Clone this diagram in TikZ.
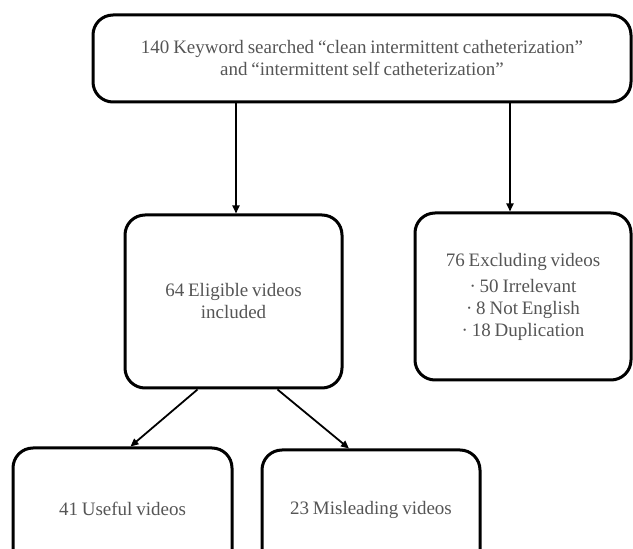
\documentclass[tikz,border=0pt]{standalone}
\usepackage{fontspec}
\setmainfont[WordSpace={0.8,0.6,0.6}]{Liberation Serif}
\usetikzlibrary{arrows.meta}
\definecolor{txt}{HTML}{555555}
\begin{document}
\begin{tikzpicture}[x=1pt,y=1pt,
  box/.style={draw=black, line width=3pt, rounded corners=20pt, text=txt,
    font=\fontsize{19}{22}\selectfont, align=center, inner sep=0pt},
  arr/.style={-{Triangle[length=8pt,width=7pt]}, line width=1.8pt}]
\useasboundingbox (0,0) rectangle (633,549);
\clip (0,0) rectangle (633,549);
\node[box, minimum width=538pt, minimum height=87pt] (top) at (362,490.5)
  {140 Keyword searched “clean intermittent catheterization”\\and “intermittent self catheterization”};
\node[box, minimum width=217pt, minimum height=173pt] (ml) at (233.5,247.5)
  {64 Eligible videos\\included};
\node[box, minimum width=216pt, minimum height=167pt] (ex) at (523,252.5)
  {76 Excluding videos\\[4pt]· 50 Irrelevant\\· 8 Not English\\· 18 Duplication};
\node[box, minimum width=219pt, minimum height=122pt] (bl) at (122.5,40)
  {41 Useful videos};
\node[box, minimum width=218pt, minimum height=120pt] (bm) at (371,39)
  {23 Misleading videos};
\draw[arr] ([xshift=2.5pt]ml.north |- top.south) -- ([xshift=2.5pt]ml.north);
\draw[arr] ([xshift=-13pt]ex.north |- top.south) -- ([xshift=-13pt]ex.north);
\draw[arr] ([xshift=-36pt]ml.south) -- ([xshift=8pt]bl.north);
\draw[arr] ([xshift=44pt]ml.south) -- ([xshift=-22pt]bm.north);
\end{tikzpicture}
\end{document}
